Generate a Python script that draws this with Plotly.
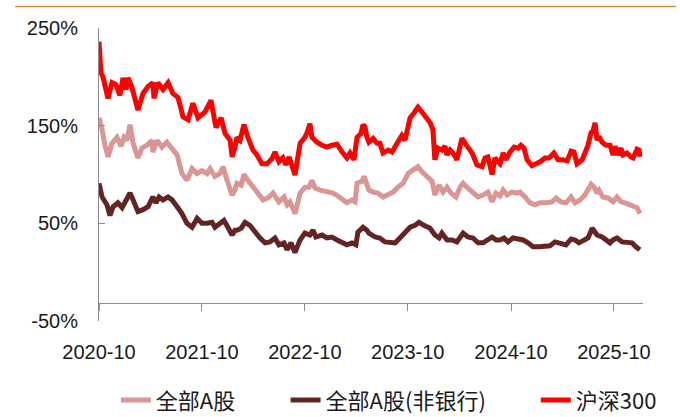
import plotly.graph_objects as go

# ---- data ----
hs300_dates = ["2020-10-01","2020-10-08","2020-10-15","2020-11-02","2020-11-16","2020-11-30","2020-12-14","2020-12-25",
    "2021-01-05","2021-01-12","2021-01-26","2021-02-16","2021-03-06","2021-03-24","2021-04-10","2021-04-14","2021-04-28",
    "2021-05-16","2021-06-03","2021-06-20","2021-07-08","2021-07-26","2021-08-13","2021-08-30","2021-09-17","2021-10-12",
    "2021-11-02","2021-11-20","2021-12-08","2021-12-22","2022-01-09","2022-01-16","2022-01-26","2022-02-02","2022-02-13",
    "2022-02-27","2022-03-13","2022-03-31","2022-04-14","2022-05-02","2022-05-20","2022-06-06","2022-06-17","2022-07-01",
    "2022-07-15","2022-07-26","2022-08-06","2022-08-27","2022-09-14","2022-10-01","2022-10-09","2022-10-19","2022-10-26",
    "2022-11-13","2022-12-01","2022-12-18","2023-01-05","2023-01-23","2023-02-10","2023-02-27","2023-03-10","2023-03-24",
    "2023-04-04","2023-04-18","2023-04-25","2023-05-02","2023-05-09","2023-05-16","2023-05-31","2023-06-14","2023-06-24",
    "2023-07-05","2023-07-23","2023-08-06","2023-08-24","2023-09-10","2023-09-21","2023-10-09","2023-10-23","2023-11-06",
    "2023-11-20","2023-12-01","2023-12-19","2023-12-29","2024-01-05","2024-01-16","2024-01-30","2024-02-10","2024-02-17",
    "2024-02-28","2024-03-09","2024-03-23","2024-04-03","2024-04-10","2024-04-28","2024-05-16","2024-06-02","2024-06-20",
    "2024-07-01","2024-07-11","2024-07-26","2024-08-05","2024-08-16","2024-08-23","2024-09-03","2024-09-13","2024-09-27",
    "2024-10-12","2024-10-26","2024-11-05","2024-11-16","2024-11-27","2024-12-14","2024-12-28","2025-01-12","2025-01-30",
    "2025-02-13","2025-03-02","2025-03-17","2025-04-03","2025-04-18","2025-05-02","2025-05-12","2025-05-23","2025-06-10",
    "2025-06-20","2025-07-01","2025-07-12","2025-07-19","2025-07-26","2025-08-02","2025-08-09","2025-08-20","2025-09-03",
    "2025-09-17","2025-09-28","2025-10-05","2025-10-15","2025-10-26","2025-11-02","2025-11-16","2025-11-30","2025-12-08",
    "2025-12-22","2025-12-29","2026-01-01"]
hs300_vals = [236,204,200,178,194,192,181,199,
    187,199,189,166,183,190,194,178,194,
    187,194,183,179,159,156,173,158,164,
    176,148,158,142,135,118,128,138,135,
    151,138,125,120,111,111,116,123,113,
    117,110,118,99.5,132,138,143,152,138,
    133,130,128,130,131,123,117,122,115,
    138,142,151,149,138,133,137,132,132,
    122,125,123,132,140,135,158,163,169,
    164,159,153,146,115,127,125,129,120,
    125,122,115,132,137,129,122,110,108,
    117,118,100,117,113,111,122,115,123,
    128,127,130,127,115,109,111,113,117,
    117,122,115,115,114,124,123,111,115,
    122,130,143,145,153,135,139,133,130,
    130,120,129,120,127,120,122,118,117,
    126,125,118]

all_a_dates = ["2020-10-01","2020-10-12","2020-10-22","2020-11-02","2020-11-16","2020-12-04","2020-12-18","2020-12-29",
    "2021-01-08","2021-01-19","2021-01-30","2021-02-16","2021-03-02","2021-03-20","2021-04-07","2021-04-10","2021-04-25",
    "2021-05-12","2021-05-30","2021-06-17","2021-07-05","2021-07-22","2021-08-09","2021-08-27","2021-09-14","2021-10-01",
    "2021-10-19","2021-10-30","2021-11-16","2021-12-04","2021-12-15","2021-12-29","2022-01-16","2022-01-26","2022-02-02",
    "2022-02-17","2022-02-27","2022-03-13","2022-03-31","2022-04-18","2022-05-06","2022-05-23","2022-06-10","2022-07-01",
    "2022-07-19","2022-07-30","2022-08-09","2022-08-27","2022-09-14","2022-10-01","2022-10-16","2022-10-26","2022-11-06",
    "2022-11-24","2022-12-18","2023-01-09","2023-01-26","2023-02-13","2023-02-27","2023-03-17","2023-03-28","2023-04-04",
    "2023-04-22","2023-04-29","2023-05-09","2023-05-16","2023-05-31","2023-06-17","2023-07-05","2023-07-23","2023-08-10",
    "2023-08-27","2023-09-14","2023-10-02","2023-10-19","2023-11-06","2023-11-20","2023-12-08","2023-12-26","2024-01-05",
    "2024-01-20","2024-02-03","2024-02-17","2024-03-02","2024-03-20","2024-04-03","2024-04-14","2024-05-01","2024-05-19",
    "2024-06-06","2024-06-24","2024-07-11","2024-07-26","2024-08-09","2024-08-23","2024-09-03","2024-09-17","2024-10-04",
    "2024-10-22","2024-11-02","2024-11-20","2024-12-07","2024-12-25","2025-01-12","2025-02-06","2025-02-23","2025-03-10",
    "2025-03-27","2025-04-14","2025-05-02","2025-05-16","2025-06-03","2025-06-20","2025-07-01","2025-07-12","2025-07-23",
    "2025-08-02","2025-08-09","2025-08-23","2025-09-10","2025-09-28","2025-10-12","2025-10-26","2025-11-09","2025-11-27",
    "2025-12-11","2025-12-22","2026-01-01"]
all_a_vals = [158,146,130,118,132,138,129,138,
    135,151,132,117,127,130,135,123,135,
    128,133,127,120,101,94,106,101,104,
    101,106,98,101,108,94,79,84,91,
    89,100,94,87,81,74,76,81,72,
    77,69,72,60,81,87,87,94,86,
    84,82,81,78,74,71,74,72,91,
    93,98,87,84,82,81,77,79,82,
    87,91,101,104,108,103,98,93,79,
    89,82,87,81,77,87,91,86,82,
    77,79,82,72,81,78,84,79,82,
    81,82,77,71,69,71,71,72,76,
    72,71,77,71,74,79,84,90,87,
    81,84,77,76,72,77,72,71,69,
    67,66,60]

ex_bank_dates = ["2020-10-01","2020-10-12","2020-10-29","2020-11-09","2020-11-20","2020-12-07","2020-12-22","2021-01-05",
    "2021-01-19","2021-01-30","2021-02-16","2021-03-06","2021-03-24","2021-04-10","2021-04-21","2021-05-02","2021-05-16",
    "2021-06-03","2021-06-17","2021-07-05","2021-07-22","2021-08-09","2021-08-27","2021-09-14","2021-10-01","2021-10-19",
    "2021-11-06","2021-11-16","2021-12-04","2021-12-18","2022-01-01","2022-01-16","2022-01-26","2022-02-02","2022-02-17",
    "2022-03-03","2022-03-20","2022-04-07","2022-04-25","2022-05-13","2022-05-30","2022-06-17","2022-07-01","2022-07-19",
    "2022-07-30","2022-08-13","2022-08-27","2022-09-14","2022-10-01","2022-10-19","2022-10-30","2022-11-09","2022-12-01",
    "2022-12-18","2023-01-05","2023-01-23","2023-02-10","2023-02-27","2023-03-17","2023-03-31","2023-04-07","2023-04-25",
    "2023-05-09","2023-05-16","2023-06-07","2023-06-24","2023-07-12","2023-07-30","2023-08-17","2023-09-03","2023-09-21",
    "2023-10-09","2023-10-27","2023-11-10","2023-11-27","2023-12-19","2024-01-05","2024-01-20","2024-01-30","2024-02-17",
    "2024-03-06","2024-03-23","2024-04-14","2024-05-01","2024-05-19","2024-06-06","2024-06-24","2024-07-11","2024-07-26",
    "2024-08-09","2024-08-23","2024-09-06","2024-09-20","2024-10-08","2024-10-26","2024-11-13","2024-11-30","2024-12-18",
    "2025-01-08","2025-01-30","2025-02-16","2025-03-06","2025-03-24","2025-04-14","2025-05-02","2025-05-16","2025-05-30",
    "2025-06-17","2025-07-01","2025-07-16","2025-07-23","2025-08-02","2025-08-20","2025-09-03","2025-09-17","2025-09-28",
    "2025-10-12","2025-10-30","2025-11-16","2025-12-04","2025-12-18","2026-01-01"]
ex_bank_vals = [91,77,69,58,67,71,66,74,
    81,74,62,64,67,77,71,77,74,
    77,74,67,60,50,46,55,50,50,
    51,46,50,53,46,38,43,43,45,
    51,48,41,35,30,31,35,28,30,
    23,30,20,33,40,38,43,36,38,
    35,36,33,31,28,30,28,41,46,
    43,40,36,35,31,31,30,35,40,
    46,48,51,48,45,38,35,40,33,
    33,31,40,36,35,30,30,33,36,
    33,33,35,31,35,34,33,30,26,
    26,26,27,31,30,28,34,33,30,
    33,35,45,41,38,36,33,30,33,
    35,31,30,30,26,23]

series_names = ["全部A股", "全部A股(非银行)", "沪深300"]
series_colors = ["#DA9694", "#632523", "#FF0000"]

year_ticks = ["2020-10-01", "2021-10-01", "2022-10-01", "2023-10-01", "2024-10-01", "2025-10-01"]
year_labels = ["2020-10", "2021-10", "2022-10", "2023-10", "2024-10", "2025-10"]
y_ticks = [-50, 50, 150, 250]
y_labels = ["-50%", "50%", "150%", "250%"]

fig = go.Figure()
data_sets = [(all_a_dates, all_a_vals), (ex_bank_dates, ex_bank_vals), (hs300_dates, hs300_vals)]
legend_ids = ["legend", "legend2", "legend3"]
for (d, v), name, color, lg in zip(data_sets, series_names, series_colors, legend_ids):
    fig.add_trace(go.Scatter(x=d, y=v, mode="lines", name=name,
                             line=dict(color=color, width=5, shape="linear"),
                             legend=lg))

axis_col = "#8C8C8C"
tick_font = dict(family="Liberation Sans, Arial, sans-serif", size=20, color="#1a1a1a")
leg_font = dict(family="Noto Sans CJK SC, sans-serif", size=22, color="#1a1a1a")

fig.update_layout(
    width=680, height=417,
    margin=dict(l=99, r=37, t=28, b=96, autoexpand=False),
    paper_bgcolor="white", plot_bgcolor="white",
    showlegend=True,
    xaxis=dict(type="date", range=["2020-10-01", "2026-01-12"],
               tickvals=year_ticks, ticktext=year_labels,
               ticks="outside", ticklen=7, tickcolor=axis_col, tickwidth=1,
               showline=True, linecolor=axis_col, linewidth=1,
               showgrid=False, zeroline=False, automargin=False,
               anchor="free", position=0.0625,
               tickfont=tick_font, ticklabelstandoff=24),
    yaxis=dict(range=[-50, 250], tickvals=y_ticks, ticktext=y_labels,
               ticks="inside", ticklen=6, tickcolor=axis_col, tickwidth=1,
               showline=True, linecolor=axis_col, linewidth=1,
               showgrid=False, zeroline=False, automargin=False,
               tickfont=tick_font, ticklabelstandoff=16),
    legend=dict(x=0.031, y=-0.27, xanchor="left", yanchor="middle", font=leg_font,
                bgcolor="rgba(0,0,0,0)"),
    legend2=dict(x=0.343, y=-0.27, xanchor="left", yanchor="middle", font=leg_font,
                 bgcolor="rgba(0,0,0,0)"),
    legend3=dict(x=0.803, y=-0.27, xanchor="left", yanchor="middle", font=leg_font,
                 bgcolor="rgba(0,0,0,0)"),
    shapes=[dict(type="line", xref="paper", yref="paper",
                 x0=-0.154, x1=1.061, y0=1.073, y1=1.073,
                 line=dict(color="#C8913A", width=1.5))],
)

fig.write_html("out.html", config={"displayModeBar": False},
               post_script="document.body.style.margin='0';")
